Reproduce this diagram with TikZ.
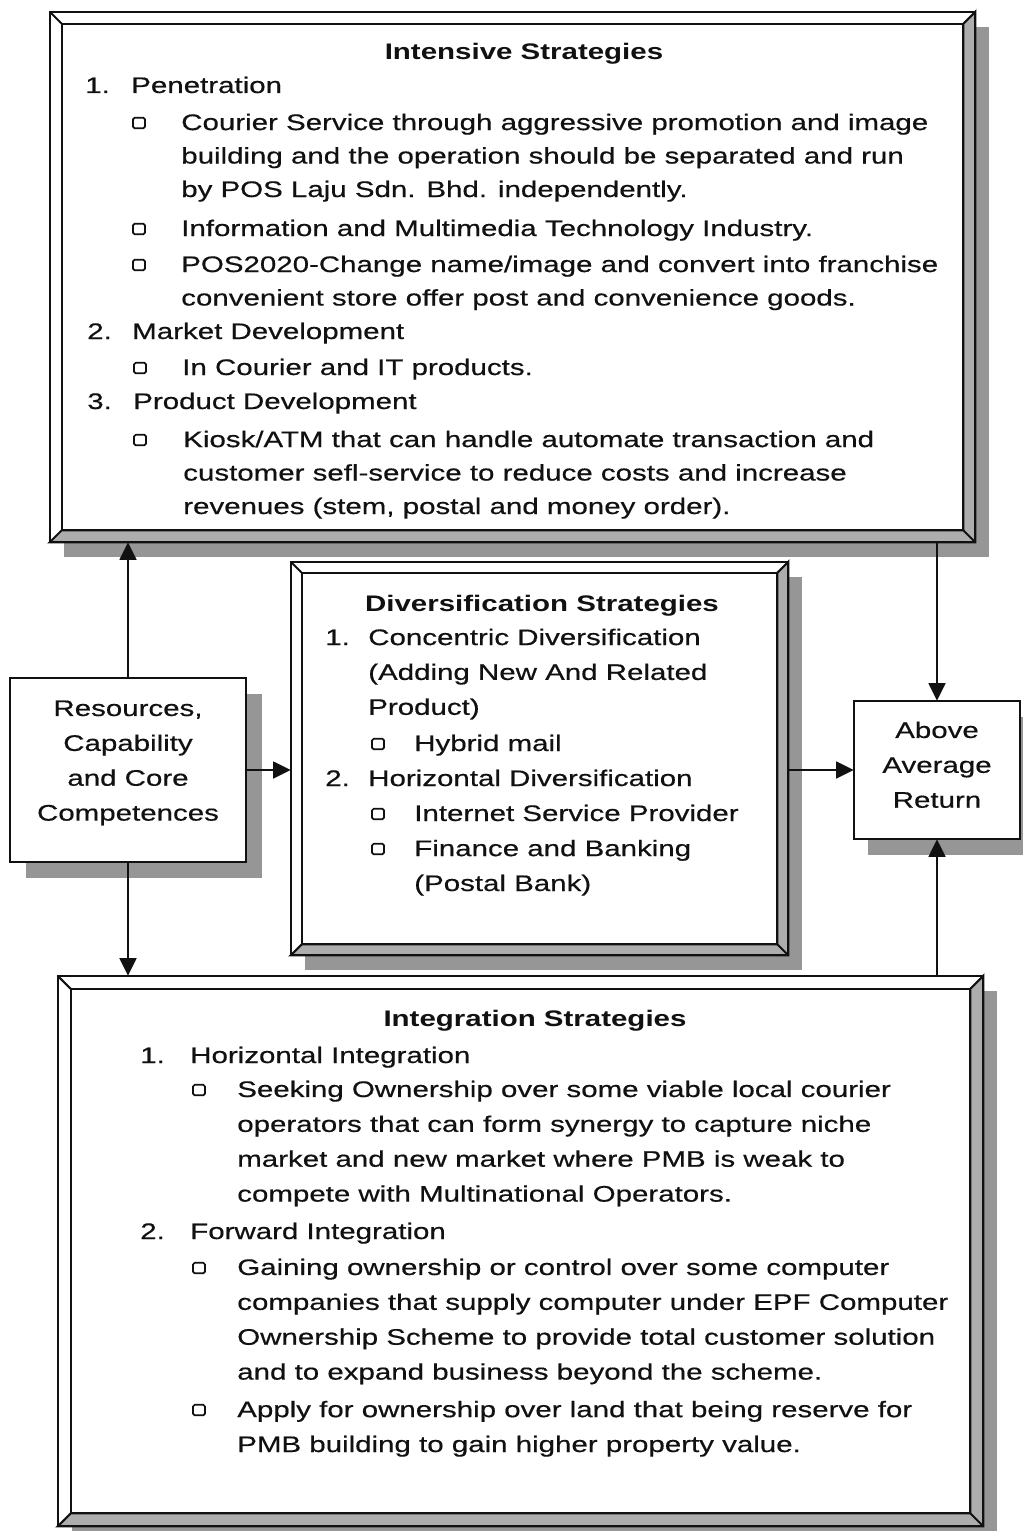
\documentclass[tikz,border=0pt]{standalone}
\usepackage{fontspec}
\setmainfont{Liberation Sans}[FakeStretch=1.31,UprightFeatures={FakeBold=0.5}]
\usepackage{tikz}
\usetikzlibrary{arrows.meta,positioning,calc,fit}
\definecolor{ink}{HTML}{111111}
\definecolor{shadowgray}{HTML}{969696}
\definecolor{facegray}{HTML}{ADADAD}

% bevelled box round a fitted node: #1 node name, #2 bevel width
\newcommand{\drawbevel}[2]{%
  \coordinate (#1-a) at ($(#1.north west)+(#2,#2)$);
  \coordinate (#1-b) at ($(#1.south east)+(-#2,-#2)$);
  \fill[shadowgray] ($(#1.north west)+(14,15)$) rectangle ($(#1.south east)+(14,15)$);
  \draw[boxline,fill=white] (#1.north west) rectangle (#1.south east);
  \draw[boxline,fill=facegray] (#1.north east) -- (#1.south east) -- (#1.south west)
    -- (#1-a |- #1-b) -- (#1-b) -- (#1-b |- #1-a) -- cycle;
  \draw[boxline] (#1-a) rectangle (#1-b);
  \draw[boxline] (#1.north west) -- (#1-a);
  \draw[boxline] (#1.south east) -- (#1-b);
}

\begin{document}
\begin{tikzpicture}[x=0.025cm,y=-0.025cm,
    boxline/.style={line width=1.5pt,color=ink},
    arrowline/.style={line width=1.3pt,color=ink,-{Triangle[length=12.5pt,width=12pt]}},
    txt/.style={font=\fontsize{16}{24.8}\selectfont,color=ink,inner sep=0pt,anchor=base west,align=left},
    headtxt/.style={font=\fontsize{16}{24.8}\selectfont\bfseries,color=ink,inner sep=0pt,anchor=base},
    ctxt/.style={font=\fontsize{16}{24.8}\selectfont,color=ink,inner sep=0pt,anchor=base,align=center},
    boxmark/.style={draw=ink,line width=1.2pt,rounded corners=1.2pt,minimum width=8.5pt,minimum height=7.5pt,inner sep=0pt}]
    \path[use as bounding box] (0,0) rectangle (1023,1531);

    % boxes
    \node[fit={(50,12) (975,542)},inner sep=0pt] (intens) {};
    \node[fit={(291,562) (788,955)},inner sep=0pt] (divers) {};
    \node[fit={(58,976) (983,1526)},inner sep=0pt] (integ) {};
    \node[fit={(10,678) (246,862)},inner sep=0pt] (res) {};
    \node[fit={(854,701) (1020,839)},inner sep=0pt] (above) {};
    \drawbevel{intens}{12}
    \drawbevel{divers}{11}
    \drawbevel{integ}{13}
    \fill[shadowgray] ($(res.north west)+(16,16)$) rectangle ($(res.south east)+(16,16)$);
    \draw[boxline,fill=white] (res.north west) rectangle (res.south east);
    \fill[shadowgray] ($(above.north west)+(14,16)$) rectangle ($(above.south east)+(14,16)$);
    \draw[boxline,fill=white] (above.north west) rectangle (above.south east);

    % connectors
    \draw[arrowline] (res.north) -- (res.north |- intens.south);
    \draw[arrowline] (res.east) -- (res.east -| divers.west);
    \draw[arrowline] (res.south) -- (res.south |- integ.north);
    \draw[arrowline] (above.north |- intens.south) -- (above.north);
    \draw[arrowline] (above.west -| divers.east) -- (above.west);
    \draw[arrowline] (above.south |- integ.north) -- (above.south);

    % intensive strategies (multi-line nodes sit on their last baseline)
    \begin{scope}[txt/.append style={font=\fontsize{16}{23.8}\selectfont}]
    \node[headtxt] (h1) at (524,60) {Intensive Strategies};
    \node[txt] (n1) at (85,93) {1.};
    \node[txt] (p1) at (131,93) {Penetration};
    \node[boxmark] (b1) at (139,123) {};
    \node[txt] (c1) at (181,197) {Courier Service through aggressive promotion and image\\
      building and the operation should be separated and run\\
      by POS Laju Sdn. Bhd. independently.};
    \node[boxmark] (b2) at (139,229) {};
    \node[txt] (c2) at (181,236) {Information and Multimedia Technology Industry.};
    \node[boxmark] (b3) at (139,265) {};
    \node[txt] (c3) at (181,305.5) {POS2020-Change name/image and convert into franchise\\
      convenient store offer post and convenience goods.};
    \node[txt] (n2) at (87,339) {2.};
    \node[txt] (p2) at (132,339) {Market Development};
    \node[boxmark] (b4) at (140,368) {};
    \node[txt] (c4) at (182,375) {In Courier and IT products.};
    \node[txt] (n3) at (87,409) {3.};
    \node[txt] (p3) at (133,409) {Product Development};
    \node[boxmark] (b5) at (140,440) {};
    \node[txt] (c5) at (183,514) {Kiosk/ATM that can handle automate transaction and\\
      customer sefl-service to reduce costs and increase\\
      revenues (stem, postal and money order).};
    \end{scope}

    % diversification strategies
    \node[headtxt] (h2) at (542,611) {Diversification Strategies};
    \node[txt] (n4) at (325,645) {1.};
    \node[txt] (d1) at (368,714.8) {Concentric Diversification\\(Adding New And Related\\Product)};
    \node[boxmark] (b6) at (378,744) {};
    \node[txt] (d2) at (414,751) {Hybrid mail};
    \node[txt] (n5) at (325,786) {2.};
    \node[txt] (d3) at (368,786) {Horizontal Diversification};
    \node[boxmark] (b7) at (378,814) {};
    \node[txt] (d4) at (414,821) {Internet Service Provider};
    \node[boxmark] (b8) at (378,849) {};
    \node[txt] (d5) at (414,891) {Finance and Banking\\(Postal Bank)};

    % side boxes
    \node[ctxt] (rtxt) at (128,820.6) {Resources,\\Capability\\and Core\\Competences};
    \node[ctxt] (atxt) at (937,807.7) {Above\\Average\\Return};

    % integration strategies
    \node[headtxt] (h3) at (535,1026) {Integration Strategies};
    \node[txt] (n6) at (140,1063) {1.};
    \node[txt] (g1) at (190,1063) {Horizontal Integration};
    \node[boxmark] (b9) at (199,1090) {};
    \node[txt] (g2) at (237,1201.6) {Seeking Ownership over some viable local courier\\
      operators that can form synergy to capture niche\\
      market and new market where PMB is weak to\\
      compete with Multinational Operators.};
    \node[txt] (n7) at (140,1239) {2.};
    \node[txt] (g3) at (190,1239) {Forward Integration};
    \node[boxmark] (b10) at (199,1268) {};
    \node[txt] (g4) at (237,1379.6) {Gaining ownership or control over some computer\\
      companies that supply computer under EPF Computer\\
      Ownership Scheme to provide total customer solution\\
      and to expand business beyond the scheme.};
    \node[boxmark] (b11) at (199,1410) {};
    \node[txt] (g5) at (237,1452) {Apply for ownership over land that being reserve for\\
      PMB building to gain higher property value.};
  \end{tikzpicture}
\end{document}
